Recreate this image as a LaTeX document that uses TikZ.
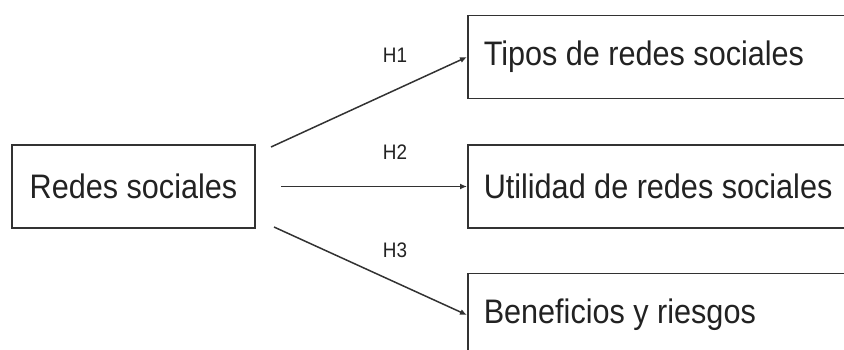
\documentclass[tikz,border=0pt]{standalone}
\usepackage{fontspec}
\setmainfont{Liberation Sans}[FakeStretch=0.9]
\usetikzlibrary{arrows.meta}
\definecolor{cLinea}{RGB}{50,50,50}
\definecolor{cTexto}{RGB}{34,34,34}
\newcommand{\textoizq}[1]{\makebox[380pt][l]{#1}}

\begin{document}
\begin{tikzpicture}[x=1pt,y=-1pt,line width=1.5pt,
  caja/.style={draw=cLinea,text=cTexto,minimum height=83pt,font=\fontsize{34}{40}\selectfont},
  cajader/.style={caja,anchor=west,inner xsep=16pt},
  flecha/.style={draw=cLinea,-{Latex[length=7pt,width=6pt]}},
  hip/.style={text=cTexto,font=\fontsize{21}{24}\selectfont}]
\clip (0,0) rectangle (844,349);
\node[caja,minimum width=243pt] (redes) at (133.5,186.5) {Redes sociales};
\node[cajader] (tipos) at (467,57) {\textoizq{Tipos de redes sociales}};
\node[cajader] (utilidad) at (467,186.5) {\textoizq{Utilidad de redes sociales}};
\node[cajader] (beneficios) at (467,315) {\textoizq{Beneficios y riesgos}};
\coordinate (s1) at (271,147);
\coordinate (s2) at (281,186.5);
\coordinate (s3) at (274,227);
\draw[flecha] (s1)--(tipos.west);
\draw[flecha] (s2)--(utilidad.west);
\draw[flecha] (s3)--(beneficios.west);
\node[hip] (h1) at (395,55){H1};
\node[hip] (h2) at (395,152){H2};
\node[hip] (h3) at (395,250){H3};
\end{tikzpicture}
\end{document}
